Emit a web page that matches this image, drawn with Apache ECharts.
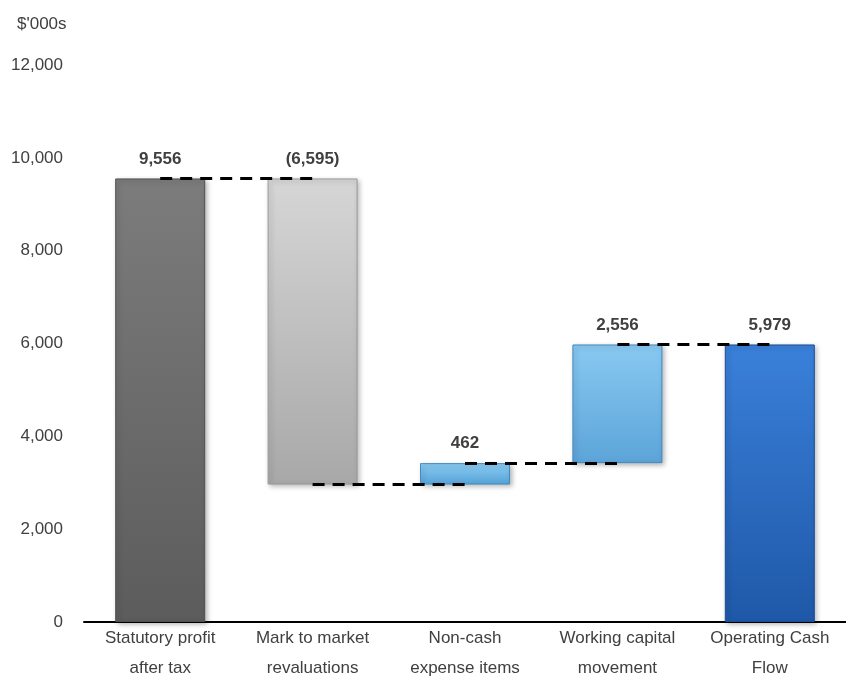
<!DOCTYPE html>
<html>
<head>
<meta charset="utf-8">
<script src="https://cdn.jsdelivr.net/npm/echarts@6/dist/echarts.min.js"></script>
<style>
  html, body { margin: 0; padding: 0; background: #fff; }
  #main { width: 846px; height: 682px; }
</style>
</head>
<body>
<div id="main"></div>
<script>
var categories = [
  "Statutory profit\nafter tax",
  "Mark to market\nrevaluations",
  "Non-cash\nexpense items",
  "Working capital\nmovement",
  "Operating Cash\nFlow"
];
// signed movements; last item is the closing total
var values = [9556, -6595, 462, 2556, 5979];
var yTicks = [0, 2000, 4000, 6000, 8000, 10000, 12000];

var topColors = ["#7c7c7c", "#d6d6d6", "#8acdf3", "#88c9f2", "#3a80da"];
var bottomColors = ["#5c5c5c", "#a8a8a8", "#56a3d8", "#5ca4d8", "#1f58a8"];
var borderColors = ["#505050", "#9a9a9a", "#3f8cc4", "#4189c0", "#1a4d94"];

var FONT = "'Liberation Sans', Arial, sans-serif";

// running totals for waterfall
var base = [];
var shown = [];
var levels = [];
var run = 0;
for (var i = 0; i < values.length; i++) {
  var v = values[i];
  if (i === values.length - 1) {
    base.push(0);
    shown.push(v);
    run = v;
  } else if (v >= 0) {
    base.push(run);
    shown.push(v);
    run += v;
  } else {
    base.push(run + v);
    shown.push(-v);
    run += v;
  }
  levels.push(run);
}

function fmt(n) {
  var s = Math.abs(n).toString().replace(/\B(?=(\d{3})+(?!\d))/g, ",");
  return n < 0 ? "(" + s + ")" : s;
}

// dashed connectors between bar centres
var connectors = [];
for (var j = 0; j < values.length - 1; j++) {
  connectors.push([
    { coord: [j, levels[j]] },
    { coord: [j + 1, levels[j]] }
  ]);
}

var barData = shown.map(function (v, k) {
  return {
    value: v,
    itemStyle: {
      color: new echarts.graphic.LinearGradient(0, 0, 0, 1, [
        { offset: 0, color: topColors[k] },
        { offset: 1, color: bottomColors[k] }
      ]),
      borderColor: borderColors[k],
      borderWidth: 1,
      shadowBlur: 5,
      shadowOffsetX: 2,
      shadowOffsetY: 2,
      shadowColor: "rgba(0,0,0,0.3)"
    }
  };
});

var myChart = echarts.init(document.getElementById("main"));
var option = {
  backgroundColor: "#fff",
  animation: false,
  title: {
    text: "$'000s",
    left: 12,
    top: 11,
    textStyle: {
      fontFamily: FONT,
      fontSize: 17,
      fontWeight: "normal",
      color: "#404040"
    }
  },
  grid: {
    left: 84,
    right: 0,
    top: 65,
    bottom: 60,
    outerBoundsMode: "none"
  },
  xAxis: {
    type: "category",
    data: categories,
    axisTick: { show: false },
    axisLine: {
      lineStyle: { color: "#000", width: 2 }
    },
    axisLabel: {
      margin: 1,
      interval: 0,
      fontFamily: FONT,
      fontSize: 17,
      lineHeight: 30,
      color: "#404040"
    }
  },
  yAxis: {
    type: "value",
    min: yTicks[0],
    max: yTicks[yTicks.length - 1],
    interval: 2000,
    axisLine: { show: false },
    axisTick: { show: false },
    splitLine: { show: false },
    axisLabel: {
      margin: 21,
      fontFamily: FONT,
      fontSize: 17,
      color: "#404040",
      formatter: function (v) {
        return fmt(v);
      }
    }
  },
  series: [
    {
      name: "base",
      type: "bar",
      stack: "wf",
      data: base,
      barWidth: 90,
      itemStyle: { color: "transparent" },
      silent: true
    },
    {
      name: "value",
      type: "bar",
      stack: "wf",
      data: barData,
      barWidth: 90,
      z: 3,
      label: {
        show: true,
        position: "top",
        distance: 11,
        fontFamily: FONT,
        fontSize: 17,
        fontWeight: "bold",
        color: "#404040",
        formatter: function (p) {
          return fmt(values[p.dataIndex]);
        }
      },
      markLine: {
        silent: true,
        symbol: "none",
        label: { show: false },
        z: 5,
        lineStyle: {
          color: "#000",
          width: 3,
          type: [12, 8]
        },
        data: connectors
      }
    }
  ]
};
myChart.setOption(option);
window.onresize = function () {
  myChart.resize();
};
</script>
</body>
</html>
